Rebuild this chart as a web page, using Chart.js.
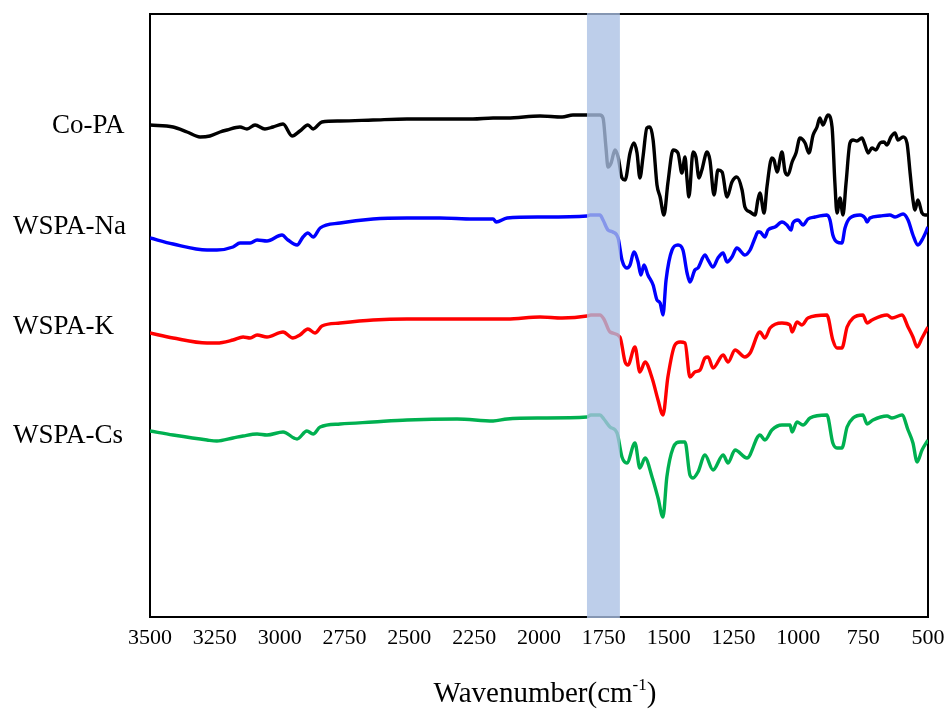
<!DOCTYPE html>
<html>
<head>
<meta charset="utf-8">
<title>FTIR spectra</title>
<script src="https://cdn.jsdelivr.net/npm/chart.js@4.4.0/dist/chart.umd.min.js"></script>
<style>
  html, body { margin: 0; padding: 0; background: #fff; }
</style>
</head>
<body>
<canvas id="ftirChart" width="945" height="716"></canvas>
<script>
// Spectra: [wavenumber (cm-1), transmittance (a.u., offset per sample)]
const coPA = [
  [3500,492],[3411,490],[3357,485],[3307,480],[3269,481],[3230,485],[3203,487],[3153,490],[3126,488],[3095,492],
  [3057,488],[3026,490],[2987,493],[2952,481],[2922,486],[2891,492],[2871,488],[2837,495],[2767,496],[2640,497],
  [2509,498],[2382,498],[2255,498],[2177,499],[2123,499],[1996,501],[1911,500],[1869,502],[1803,502],[1765,502],
  [1753,499],[1742,470],[1734,450],[1722,454],[1707,467],[1695,460],[1680,439],[1668,437],[1649,464],[1634,474],
  [1622,464],[1611,439],[1599,460],[1584,489],[1572,490],[1560,477],[1545,432],[1533,420],[1518,402],[1503,434],
  [1483,467],[1464,464],[1449,444],[1437,460],[1429,437],[1422,420],[1406,465],[1395,460],[1383,439],[1372,447],
  [1352,465],[1341,457],[1325,422],[1310,447],[1294,445],[1275,420],[1256,435],[1237,440],[1217,427],[1206,410],
  [1186,405],[1167,402],[1156,417],[1148,424],[1132,404],[1121,430],[1102,459],[1094,457],[1082,445],[1063,465],
  [1051,445],[1040,442],[1024,455],[1009,464],[994,479],[974,474],[959,464],[943,482],[928,490],[917,499],
  [905,492],[886,502],[870,490],[859,434],[851,404],[839,419],[828,402],[816,434],[801,474],[789,477],
  [774,476],[755,479],[743,472],[731,464],[716,469],[701,467],[685,474],[670,475],[658,472],[643,480],
  [627,484],[616,477],[596,480],[581,474],[569,444],[558,417],[550,407],[539,417],[523,404],[512,402],[500,402]
];

const wspaNa = [
  [3500,379],[3411,373],[3280,367],[3242,367],[3180,370],[3153,374],[3114,374],[3087,377],[3049,376],[2991,382],
  [2968,377],[2933,372],[2910,380],[2891,384],[2871,380],[2844,389],[2767,394],[2640,398],[2509,399],[2382,399],
  [2255,398],[2177,398],[2165,395],[2123,399],[1996,400],[1815,401],[1803,402],[1765,402],[1753,397],[1734,387],
  [1715,385],[1695,379],[1680,357],[1661,349],[1649,352],[1634,365],[1618,355],[1607,342],[1595,352],[1580,342],
  [1560,332],[1545,317],[1533,314],[1522,302],[1510,337],[1487,367],[1464,372],[1445,367],[1429,344],[1418,335],
  [1399,347],[1387,349],[1360,362],[1348,357],[1329,350],[1310,359],[1290,364],[1275,355],[1256,360],[1237,369],
  [1206,362],[1186,367],[1167,379],[1156,385],[1148,385],[1129,380],[1117,387],[1090,390],[1063,395],[1044,392],
  [1028,387],[1021,394],[1001,397],[982,392],[963,398],[936,400],[890,402],[878,397],[867,382],[851,375],
  [832,374],[820,389],[801,399],[762,402],[743,399],[735,395],[724,399],[685,401],[647,402],[627,400],
  [596,403],[577,397],[558,382],[539,372],[519,379],[500,390]
];

const wspaK = [
  [3500,284],[3411,279],[3280,274],[3242,274],[3180,277],[3141,280],[3114,279],[3087,282],[3049,280],[2987,285],
  [2949,279],[2922,282],[2891,288],[2864,284],[2837,291],[2767,294],[2640,297],[2509,298],[2255,298],[2177,298],
  [2123,298],[1996,300],[1911,299],[1815,301],[1800,302],[1765,302],[1750,298],[1726,285],[1688,280],[1668,255],
  [1657,252],[1630,270],[1611,245],[1591,255],[1564,239],[1541,217],[1522,202],[1503,240],[1476,272],[1456,275],
  [1437,274],[1418,240],[1399,245],[1379,247],[1360,259],[1348,260],[1329,249],[1290,262],[1271,255],[1244,267],
  [1206,260],[1186,264],[1148,285],[1129,279],[1109,289],[1063,294],[1032,292],[1024,285],[1005,295],[986,292],
  [963,299],[890,302],[867,277],[851,269],[832,269],[812,290],[789,299],[751,302],[735,294],[716,297],
  [658,302],[639,299],[600,302],[577,290],[558,280],[542,270],[523,279],[500,290]
];

const wspaCs = [
  [3500,186],[3411,182],[3280,177],[3242,176],[3180,179],[3141,181],[3087,183],[3049,182],[2987,185],[2933,178],
  [2895,186],[2871,183],[2844,190],[2767,193],[2640,195],[2509,197],[2316,198],[2177,196],[2123,198],[1996,199],
  [1815,200],[1800,202],[1765,202],[1750,198],[1726,190],[1699,184],[1680,160],[1661,154],[1630,174],[1611,149],
  [1591,159],[1564,140],[1541,119],[1522,100],[1507,140],[1483,169],[1456,175],[1437,175],[1418,142],[1406,139],
  [1387,145],[1360,162],[1329,147],[1290,162],[1271,154],[1244,167],[1198,159],[1148,182],[1129,177],[1102,187],
  [1063,192],[1032,192],[1024,185],[1005,195],[982,192],[955,199],[890,202],[867,174],[851,169],[832,169],
  [812,190],[789,199],[751,202],[735,193],[712,197],[658,201],[639,199],[600,202],[577,187],[558,174],
  [542,155],[523,167],[500,177]
];

const sampleNames = ["Co-PA", "WSPA-Na", "WSPA-K", "WSPA-Cs"];
const sampleColors = ["#000000", "#0000ff", "#ff0000", "#00b050"];
const xTicks = [3500, 3250, 3000, 2750, 2500, 2250, 2000, 1750, 1500, 1250, 1000, 750, 500];
const highlightBand = [1815, 1688]; // cm-1

const serif = '"Liberation Serif", "Times New Roman", serif';

// where the sample names sit, left of the frame
const nameSpots = [
  { x: 52, y: 133 },
  { x: 13, y: 234 },
  { x: 13, y: 334 },
  { x: 13, y: 443 }
];

function toPoints(pairs) {
  return pairs.map(p => ({ x: p[0], y: p[1] }));
}

// frame, shaded band, sample names and axis title
const decorations = {
  id: 'decorations',
  beforeDatasetsDraw(chart) {
    const { ctx, chartArea: a } = chart;
    ctx.save();
    ctx.strokeStyle = '#000';
    ctx.lineWidth = 2;
    ctx.strokeRect(a.left, a.top, a.right - a.left, a.bottom - a.top);
    ctx.restore();
  },
  afterDatasetsDraw(chart) {
    const { ctx, chartArea: a } = chart;
    const xs = chart.scales.x;
    const p1 = xs.getPixelForValue(highlightBand[0]);
    const p2 = xs.getPixelForValue(highlightBand[1]);
    ctx.save();
    ctx.fillStyle = 'rgba(170, 192, 228, 0.78)';
    ctx.fillRect(Math.min(p1, p2), a.top - 1, Math.abs(p2 - p1), a.bottom - a.top + 2);
    ctx.restore();
  },
  afterDraw(chart) {
    const { ctx, chartArea: a } = chart;
    ctx.save();
    ctx.fillStyle = '#000';
    ctx.textBaseline = 'alphabetic';
    ctx.textAlign = 'left';

    // sample names
    ctx.font = '27px ' + serif;
    sampleNames.forEach((name, i) => {
      ctx.fillText(name, nameSpots[i].x, nameSpots[i].y);
    });

    // axis title with superscript
    const main = 'Wavenumber(cm';
    const sup = '-1';
    const close = ')';
    ctx.font = '29px ' + serif;
    const wMain = ctx.measureText(main).width;
    const wClose = ctx.measureText(close).width;
    ctx.font = '17px ' + serif;
    const wSup = ctx.measureText(sup).width;
    const total = wMain + wSup + wClose;
    let x = (a.left + a.right) / 2 + 6 - total / 2;
    const base = 702;
    ctx.font = '29px ' + serif;
    ctx.fillText(main, x, base);
    x += wMain;
    ctx.font = '17px ' + serif;
    ctx.fillText(sup, x, base - 12);
    x += wSup;
    ctx.font = '29px ' + serif;
    ctx.fillText(close, x, base);
    ctx.restore();
  }
};

const series = [coPA, wspaNa, wspaK, wspaCs];

new Chart(document.getElementById('ftirChart').getContext('2d'), {
  type: 'line',
  data: {
    datasets: series.map((s, i) => ({
      label: sampleNames[i],
      data: toPoints(s),
      borderColor: sampleColors[i],
      backgroundColor: sampleColors[i],
      borderWidth: 3.4,
      pointRadius: 0,
      fill: false,
      cubicInterpolationMode: 'monotone'
    }))
  },
  options: {
    responsive: false,
    animation: false,
    layout: { padding: { left: 150, right: 17, top: 14, bottom: 39 } },
    plugins: {
      legend: { display: false },
      tooltip: { enabled: false }
    },
    scales: {
      x: {
        type: 'linear',
        reverse: true,
        min: 500,
        max: 3500,
        afterBuildTicks: scale => { scale.ticks = xTicks.map(v => ({ value: v })); },
        afterFit: scale => {
          scale.height = 60;
          scale.paddingLeft = 0;
          scale.paddingRight = 0;
        },
        grid: { display: false, drawTicks: false },
        border: { display: false },
        ticks: {
          padding: 8,
          color: '#000',
          font: { family: serif, size: 22 },
          maxRotation: 0,
          autoSkip: false,
          callback: value => String(value)
        }
      },
      y: {
        display: false,
        min: 0,
        max: 603
      }
    }
  },
  plugins: [decorations]
});
</script>
</body>
</html>
